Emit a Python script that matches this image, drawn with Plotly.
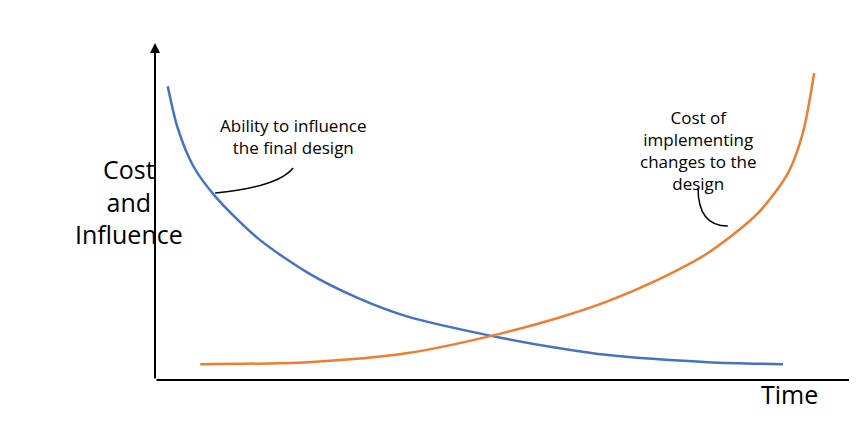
import plotly.graph_objects as go

# values (time 0-100, level 0-100)
ability_t = [1.8, 3.2, 5.4, 8.5, 14.5, 21.6, 28.7, 35.7, 47.5, 56.9, 64.0, 78.1, 88.7]
ability_v = [87.2, 74.8, 63.5, 54.5, 42.1, 31.8, 24.3, 18.8, 13.1, 9.5, 7.4, 5.3, 4.7]
cost_t = [6.4, 21.6, 35.7, 47.5, 56.9, 64.0, 71.0, 78.1, 85.2, 89.4, 91.5, 93.1]
cost_v = [4.7, 5.3, 8.0, 13.1, 18.4, 23.4, 29.7, 37.7, 49.6, 61.4, 73.3, 91.1]

font = "Open Sans, Liberation Sans, sans-serif"

fig = go.Figure()
fig.add_trace(go.Scatter(x=ability_t, y=ability_v, mode="lines",
                         line=dict(color="#4472c4", width=2.5, shape="spline", smoothing=0.8)))
fig.add_trace(go.Scatter(x=cost_t, y=cost_v, mode="lines",
                         line=dict(color="#ed7d31", width=2.5, shape="spline", smoothing=0.8)))

fig.update_layout(
    width=857, height=430,
    margin=dict(l=147, r=2, t=35, b=58, autoexpand=False),
    plot_bgcolor="white", paper_bgcolor="white",
    showlegend=False,
    xaxis=dict(range=[0, 100], visible=False),
    yaxis=dict(range=[0, 100], visible=False),
    shapes=[
        dict(type="path", xref="x", yref="y", line=dict(color="black", width=1.5),
             path="M 8.5 55.5 Q 17.4 57.3 19.5 62.9"),
        dict(type="path", xref="x", yref="y", line=dict(color="black", width=1.5),
             path="M 80.9 45.7 Q 76.7 45.7 76.7 57.0"),
    ],
    annotations=[
        dict(x=0, y=100, xref="x", yref="y", ax=0, ay=337, axref="pixel", ayref="pixel",
             text="", showarrow=True, arrowhead=2, arrowwidth=2, arrowcolor="black"),
        dict(x=100, y=0, xref="x", yref="y", ax=-708, ay=0, axref="pixel", ayref="pixel",
             text="", showarrow=True, arrowhead=2, arrowwidth=2, arrowcolor="black"),
        dict(x=19.5, y=72.4, xref="x", yref="y", showarrow=False,
             text="Ability to influence<br>the final design",
             font=dict(family=font, size=17, color="black")),
        dict(x=76.7, y=68.0, xref="x", yref="y", showarrow=False,
             text="Cost of<br>implementing<br>changes to the<br>design",
             font=dict(family=font, size=17, color="black")),
        dict(x=65, y=193, xref="paper", yref="paper", showarrow=False,
             text="Cost<br>and<br>Influence",
             font=dict(family=font, size=25, color="black")),
        dict(x=812, y=405, xref="paper", yref="paper", showarrow=False,
             text="Time", font=dict(family=font, size=25, color="black")),
    ],
)
# convert the pixel-placed labels to paper coordinates
for a in fig.layout.annotations:
    if a.xref == "paper":
        a.x = (a.x - 147) / 708
        a.y = (372 - a.y) / 337

fig.write_html("out.html")
